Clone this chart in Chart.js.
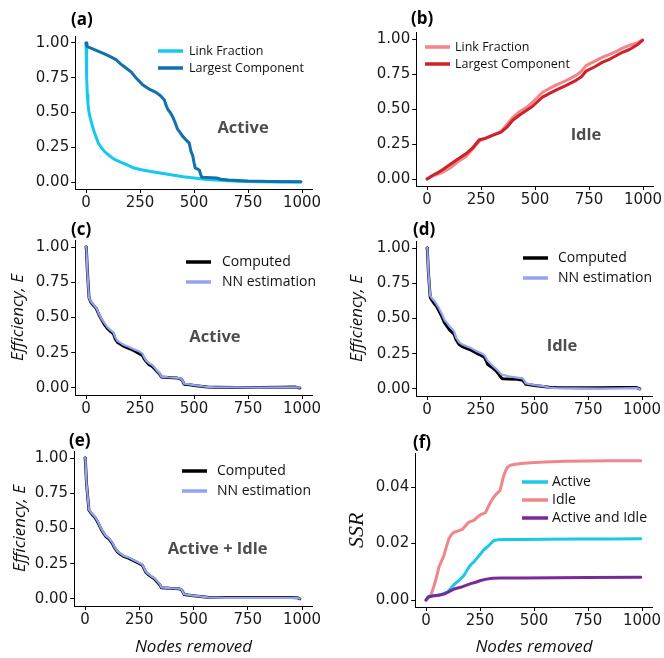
<!DOCTYPE html>
<html>
<head>
<meta charset="utf-8">
<script src="https://cdn.jsdelivr.net/npm/chart.js@4.4.1/dist/chart.umd.min.js"></script>
<style>
  body { margin: 0; background: #fff; }
  #fig { position: relative; width: 664px; height: 658px; }
  #fig canvas { position: absolute; }
</style>
</head>
<body>
<div id="fig">
  <canvas id="pa" width="332" height="210" style="left:0;top:0"></canvas>
  <canvas id="pb" width="332" height="210" style="left:332px;top:0"></canvas>
  <canvas id="pc" width="332" height="215" style="left:0;top:210px"></canvas>
  <canvas id="pd" width="332" height="215" style="left:332px;top:210px"></canvas>
  <canvas id="pe" width="332" height="233" style="left:0;top:425px"></canvas>
  <canvas id="pf" width="332" height="233" style="left:332px;top:425px"></canvas>
</div>
<script>
// ---- tick labels ----
const xTicks = [0, 250, 500, 750, 1000];
const unitTicks = [0, 0.25, 0.5, 0.75, 1];
const ssrTicks = [0, 0.02, 0.04];

// ---- (a) Active: link fraction / largest component ----
const aLinkX = [0, 2, 4, 6, 9, 13, 18, 25, 34, 45, 57, 70, 85, 100, 120, 142, 165, 188, 215, 250, 300, 343, 400, 451, 500, 559, 620, 700, 800, 900, 995];
const aLinkY = [1.00, 0.90, 0.75, 0.63, 0.56, 0.51, 0.47, 0.43, 0.38, 0.33, 0.28, 0.25, 0.22, 0.20, 0.175, 0.155, 0.14, 0.125, 0.105, 0.09, 0.076, 0.065, 0.05, 0.038, 0.029, 0.018, 0.012, 0.006, 0.003, 0.001, 0.000];
const aCompX = [0, 4, 20, 50, 80, 108, 139, 160, 185, 210, 231, 250, 262, 290, 324, 345, 363, 370, 378, 390, 401, 412, 424, 436, 447, 462, 478, 486, 494, 500, 506, 515, 525, 530, 536, 560, 605, 625, 660, 750, 850, 995];
const aCompY = [1.00, 0.975, 0.965, 0.945, 0.925, 0.905, 0.88, 0.85, 0.82, 0.79, 0.75, 0.72, 0.70, 0.67, 0.645, 0.62, 0.59, 0.555, 0.525, 0.50, 0.47, 0.43, 0.38, 0.355, 0.33, 0.305, 0.28, 0.22, 0.19, 0.14, 0.10, 0.095, 0.085, 0.06, 0.035, 0.033, 0.029, 0.02, 0.015, 0.008, 0.004, 0.002];

// ---- (b) Idle: link fraction / largest component ----
const bX = [0, 25, 50, 75, 103, 140, 180, 210, 242, 270, 300, 343, 370, 397, 427, 460, 489, 510, 535, 565, 597, 640, 690, 715, 736, 775, 813, 845, 875, 905, 937, 970, 998];
const bLinkY = [0.00, 0.02, 0.035, 0.05, 0.075, 0.12, 0.16, 0.21, 0.27, 0.29, 0.31, 0.34, 0.39, 0.44, 0.48, 0.51, 0.55, 0.58, 0.62, 0.645, 0.67, 0.70, 0.74, 0.77, 0.81, 0.84, 0.87, 0.89, 0.91, 0.935, 0.955, 0.97, 0.995];
const bCompY = [0.00, 0.025, 0.045, 0.07, 0.10, 0.14, 0.18, 0.22, 0.28, 0.29, 0.31, 0.335, 0.37, 0.42, 0.455, 0.49, 0.52, 0.55, 0.585, 0.61, 0.635, 0.665, 0.705, 0.73, 0.77, 0.80, 0.835, 0.855, 0.88, 0.905, 0.925, 0.955, 0.99];

// ---- (c) Active: efficiency ----
const cX = [0, 2, 6, 14, 22, 35, 47, 60, 72, 83, 100, 114, 127, 135, 145, 160, 176, 200, 222, 245, 261, 270, 278, 292, 305, 315, 330, 340, 349, 380, 423, 440, 447, 454, 480, 500, 530, 562, 600, 700, 800, 900, 970, 990];
const cCompY = [1.00, 0.98, 0.84, 0.64, 0.61, 0.585, 0.565, 0.52, 0.485, 0.455, 0.42, 0.40, 0.385, 0.35, 0.325, 0.31, 0.295, 0.28, 0.265, 0.245, 0.23, 0.205, 0.19, 0.165, 0.155, 0.14, 0.115, 0.10, 0.078, 0.075, 0.07, 0.064, 0.05, 0.027, 0.022, 0.017, 0.012, 0.006, 0.005, 0.004, 0.004, 0.005, 0.006, 0.000];
const cNnY = [1.00, 0.99, 0.84, 0.64, 0.615, 0.59, 0.57, 0.525, 0.49, 0.465, 0.43, 0.41, 0.395, 0.36, 0.335, 0.32, 0.305, 0.29, 0.275, 0.26, 0.245, 0.215, 0.195, 0.175, 0.165, 0.15, 0.12, 0.105, 0.08, 0.076, 0.072, 0.066, 0.052, 0.03, 0.025, 0.02, 0.014, 0.007, 0.005, 0.004, 0.003, 0.004, 0.005, 0.002];

// ---- (d) Idle: efficiency ----
const dX = [0, 2, 6, 15, 25, 34, 45, 57, 70, 81, 95, 104, 118, 127, 135, 150, 165, 181, 205, 229, 250, 267, 275, 282, 295, 305, 320, 336, 345, 352, 380, 420, 445, 452, 460, 500, 540, 569, 600, 700, 800, 900, 975, 990];
const dCompY = [1.00, 0.98, 0.84, 0.65, 0.625, 0.605, 0.585, 0.55, 0.51, 0.47, 0.44, 0.42, 0.40, 0.385, 0.35, 0.315, 0.30, 0.29, 0.275, 0.255, 0.24, 0.225, 0.20, 0.175, 0.16, 0.15, 0.13, 0.10, 0.08, 0.072, 0.07, 0.068, 0.062, 0.05, 0.033, 0.025, 0.018, 0.012, 0.01, 0.009, 0.009, 0.01, 0.01, 0.000];
const dNnY = [1.00, 0.99, 0.84, 0.66, 0.64, 0.625, 0.60, 0.57, 0.53, 0.49, 0.465, 0.445, 0.425, 0.405, 0.365, 0.33, 0.315, 0.305, 0.29, 0.27, 0.255, 0.24, 0.22, 0.20, 0.18, 0.165, 0.145, 0.12, 0.105, 0.10, 0.09, 0.08, 0.075, 0.06, 0.04, 0.028, 0.02, 0.01, 0.006, 0.004, 0.003, 0.004, 0.006, 0.000];

// ---- (e) Active + Idle: efficiency ----
const eX = [0, 2, 7, 18, 30, 45, 57, 70, 80, 95, 111, 126, 134, 149, 165, 180, 200, 226, 245, 264, 272, 280, 290, 303, 318, 333, 345, 352, 390, 433, 445, 449, 456, 490, 530, 564, 650, 750, 850, 950, 980, 990];
const eCompY = [1.00, 0.98, 0.82, 0.63, 0.605, 0.58, 0.55, 0.51, 0.48, 0.445, 0.425, 0.395, 0.37, 0.335, 0.315, 0.30, 0.29, 0.27, 0.255, 0.24, 0.215, 0.19, 0.175, 0.16, 0.145, 0.12, 0.10, 0.08, 0.076, 0.073, 0.065, 0.055, 0.032, 0.024, 0.017, 0.012, 0.01, 0.01, 0.01, 0.01, 0.008, 0.001];
const eNnY = [1.00, 0.99, 0.82, 0.635, 0.61, 0.585, 0.555, 0.515, 0.485, 0.45, 0.43, 0.40, 0.375, 0.34, 0.32, 0.305, 0.295, 0.275, 0.26, 0.245, 0.22, 0.195, 0.18, 0.165, 0.15, 0.125, 0.105, 0.082, 0.077, 0.074, 0.067, 0.057, 0.034, 0.026, 0.018, 0.011, 0.008, 0.007, 0.007, 0.008, 0.007, 0.002];

// ---- (f) SSR ----
const fIdleX = [0, 10, 22, 37, 50, 60, 72, 83, 95, 106, 118, 130, 150, 168, 185, 199, 222, 240, 253, 265, 276, 288, 299, 312, 323, 335, 343, 350, 358, 367, 377, 390, 407, 440, 485, 550, 639, 750, 850, 994];
const fIdleY = [0.000, 0.0008, 0.0017, 0.005, 0.0085, 0.0117, 0.0138, 0.0158, 0.019, 0.0217, 0.0232, 0.024, 0.0245, 0.025, 0.0265, 0.0276, 0.0282, 0.0295, 0.0302, 0.0306, 0.031, 0.033, 0.0347, 0.0362, 0.0373, 0.0382, 0.0388, 0.041, 0.0435, 0.0455, 0.047, 0.0477, 0.048, 0.0483, 0.0486, 0.0489, 0.0491, 0.0492, 0.0493, 0.0493];
const fActX = [0, 14, 30, 50, 70, 85, 99, 115, 130, 150, 165, 176, 188, 199, 210, 222, 238, 253, 268, 284, 300, 315, 330, 361, 450, 550, 700, 850, 994];
const fActY = [0.000, 0.0013, 0.0015, 0.0017, 0.002, 0.0024, 0.0028, 0.0042, 0.0055, 0.0068, 0.0078, 0.0088, 0.0103, 0.0117, 0.0127, 0.0135, 0.015, 0.0164, 0.0178, 0.0188, 0.02, 0.0211, 0.0213, 0.0214, 0.0214, 0.0215, 0.0216, 0.0216, 0.0217];
const fBothX = [0, 10, 30, 60, 83, 100, 115, 130, 160, 185, 207, 230, 253, 280, 307, 350, 450, 600, 750, 994];
const fBothY = [0.000, 0.0011, 0.0014, 0.0017, 0.0021, 0.0027, 0.0033, 0.0039, 0.0045, 0.0052, 0.0058, 0.0063, 0.0069, 0.0074, 0.0077, 0.0078, 0.0078, 0.0079, 0.008, 0.0081];

Chart.defaults.font.family = 'DejaVu Sans';
Chart.defaults.color = '#1a1a1a';

function pts(xs, ys) {
  return xs.map((x, i) => ({ x: x, y: ys[i] }));
}

function line(label, xs, ys, color, width, order) {
  return {
    label: label,
    data: pts(xs, ys),
    borderColor: color,
    borderWidth: width,
    pointRadius: 0,
    tension: 0,
    borderJoinStyle: 'round',
    borderCapStyle: 'round',
    order: order
  };
}

// panel tag, legend drawn inside the plot, and the grey annotation
const panelDecor = {
  id: 'panelDecor',
  afterDraw(chart, args, o) {
    const ctx = chart.ctx;
    ctx.save();
    ctx.textBaseline = 'middle';
    ctx.textAlign = 'left';
    ctx.fillStyle = '#000';
    ctx.font = 'bold 17px "Open Sans"';
    ctx.fillText(o.tag, o.tagX, o.tagY);

    const lg = o.legend;
    ctx.font = lg.size + 'px "Open Sans"';
    chart.data.datasets.forEach((ds, i) => {
      const y = lg.y + i * lg.step;
      ctx.strokeStyle = ds.borderColor;
      ctx.lineWidth = 3.5;
      ctx.beginPath();
      ctx.moveTo(lg.x, y);
      ctx.lineTo(lg.x + lg.len, y);
      ctx.stroke();
      ctx.fillStyle = '#111';
      ctx.fillText(ds.label, lg.textX, y);
    });

    if (o.note) {
      ctx.font = 'bold 16.5px "Open Sans"';
      ctx.fillStyle = '#4d4d4d';
      ctx.textAlign = 'center';
      ctx.fillText(o.note.text, chart.scales.x.getPixelForValue(o.note.x), chart.scales.y.getPixelForValue(o.note.y));
    }
    ctx.restore();
  }
};

function makeChart(id, area, datasets, yCfg, decor, xTitle, yTitle) {
  const canvas = document.getElementById(id);
  const w = canvas.width, h = canvas.height;
  new Chart(canvas, {
    type: 'line',
    data: { datasets: datasets },
    options: {
      responsive: false,
      animation: false,
      devicePixelRatio: 1,
      layout: { padding: { left: 0, top: area.top, right: w - area.right, bottom: 0 } },
      plugins: { legend: { display: false }, tooltip: { enabled: false }, panelDecor: decor },
      scales: {
        x: {
          type: 'linear',
          min: -50,
          max: 1050,
          afterBuildTicks: s => { s.ticks = xTicks.map(v => ({ value: v })); },
          afterFit: s => { s.height = h - area.bottom; },
          grid: { drawOnChartArea: false, drawTicks: true, tickLength: 4, color: '#000' },
          border: { display: true, color: '#000', width: 1 },
          ticks: { font: { size: 15 }, padding: 1, maxRotation: 0, callback: v => String(v) },
          title: xTitle || { display: false }
        },
        y: {
          type: 'linear',
          min: yCfg.min,
          max: yCfg.max,
          afterBuildTicks: s => { s.ticks = yCfg.ticks.map(v => ({ value: v })); },
          afterFit: s => { s.width = area.left; },
          grid: { drawOnChartArea: false, drawTicks: true, tickLength: 4, color: '#000' },
          border: { display: true, color: '#000', width: 1 },
          ticks: { font: { size: 15 }, padding: 2, callback: v => v.toFixed(2) },
          title: yTitle || { display: false }
        }
      }
    },
    plugins: [panelDecor]
  });
}

const unitY = { min: -0.05, max: 1.05, ticks: unitTicks };
const ssrY = { min: -0.00247, max: 0.0518, ticks: ssrTicks };

function effTitle(pad) {
  return { display: true, text: 'Efficiency, E', color: '#111', font: { family: 'Open Sans', style: 'italic', size: 17 }, padding: { top: pad, bottom: 0 } };
}
const nodesTitle = { display: true, text: 'Nodes removed', color: '#111', font: { family: 'Open Sans', style: 'italic', size: 17 }, padding: { top: 0, bottom: 1 } };

const black = '#000000', nnBlue = '#93A3F4';

makeChart('pa', { left: 75.2, right: 312.8, top: 36, bottom: 189 }, [
  line('Link Fraction', aLinkX, aLinkY, '#14C8EE', 3, 1),
  line('Largest Component', aCompX, aCompY, '#1470AD', 3, 0)
], unitY, {
  tag: '(a)', tagX: 71, tagY: 20,
  legend: { x: 158, y: 51, step: 17, len: 25, textX: 189, size: 12.5 },
  note: { text: 'Active', x: 727, y: 0.39 }
});

makeChart('pb', { left: 84.2, right: 321.8, top: 32, bottom: 186 }, [
  line('Link Fraction', bX, bLinkY, '#F0858A', 3, 1),
  line('Largest Component', bX, bCompY, '#CC2229', 3, 0)
], unitY, {
  tag: '(b)', tagX: 79, tagY: 19,
  legend: { x: 93, y: 47, step: 17, len: 25, textX: 123, size: 12.5 },
  note: { text: 'Idle', x: 736, y: 0.31 }
});

makeChart('pc', { left: 75.2, right: 312.8, top: 30, bottom: 185 }, [
  line('Computed', cX, cCompY, black, 3, 1),
  line('NN estimation', cX, cNnY, nnBlue, 2.2, 0)
], unitY, {
  tag: '(c)', tagX: 71, tagY: 20,
  legend: { x: 186, y: 52, step: 20, len: 25, textX: 222, size: 14 },
  note: { text: 'Active', x: 597, y: 0.36 }
}, null, effTitle(7.5));

makeChart('pd', { left: 84.25, right: 320.75, top: 31, bottom: 186 }, [
  line('Computed', dX, dCompY, black, 3, 1),
  line('NN estimation', dX, dNnY, nnBlue, 2.2, 0)
], unitY, {
  tag: '(d)', tagX: 81, tagY: 20,
  legend: { x: 191, y: 48, step: 20, len: 25, textX: 226, size: 14 },
  note: { text: 'Idle', x: 628, y: 0.30 }
}, null, effTitle(14.5));

makeChart('pe', { left: 74.15, right: 312.85, top: 26, bottom: 181 }, [
  line('Computed', eX, eCompY, black, 3, 1),
  line('NN estimation', eX, eNnY, nnBlue, 2.2, 0)
], unitY, {
  tag: '(e)', tagX: 69, tagY: 16,
  legend: { x: 182, y: 46, step: 20, len: 25, textX: 217, size: 14 },
  note: { text: 'Active + Idle', x: 611, y: 0.355 }
}, nodesTitle, effTitle(9.5));

makeChart('pf', { left: 83.2, right: 320.8, top: 28.7, bottom: 182 }, [
  line('Active', fActX, fActY, '#1CC8E8', 3, 1),
  line('Idle', fIdleX, fIdleY, '#F0858A', 3, 2),
  line('Active and Idle', fBothX, fBothY, '#7A2A98', 3, 0)
], ssrY, {
  tag: '(f)', tagX: 81, tagY: 18,
  legend: { x: 190, y: 57, step: 18, len: 26, textX: 220, size: 14 }
}, nodesTitle, { display: true, text: 'SSR', color: '#111', font: { family: 'Liberation Serif', style: 'italic', size: 22 }, padding: { top: 12, bottom: 0 } });
</script>
</body>
</html>
